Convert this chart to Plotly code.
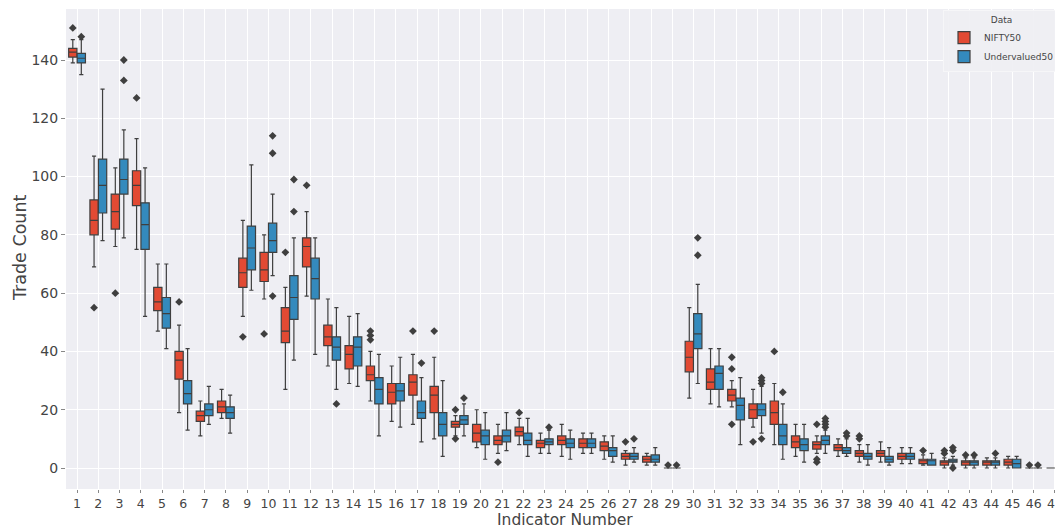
import plotly.graph_objects as go

indicators = list(range(1, 48))

# NIFTY50 box statistics (lower whisker, q1, median, q3, upper whisker)
nifty_lo = [139, 69, 76, 75, 47, 19, 11, 17, 52, 58, 27, 59, 35, 29, 23, 16, 15, 10, 11, 7, 5, 8, 5, 4, 5, 3, 1, 1, 0,
            24, 22, 21, 14, 8, 4, 5, 4, 2, 2, 1.5, 1, 0, 0, 0, 0, 0, 0]
nifty_q1 = [141, 80, 82, 90, 54, 30.5, 16, 19, 62, 64, 43, 69, 42, 34, 30, 22, 25, 19, 14, 9, 8, 11, 7, 8, 7, 6, 3, 2, 0,
            33, 27, 23, 17, 15, 7, 6.5, 6, 4, 4, 3, 1.5, 1, 1, 1, 1, 0, 0]
nifty_med = [142.7, 85, 88, 97, 57, 37, 18, 21, 67, 68, 47, 76, 45, 39, 32, 26, 29.5, 25, 15, 12, 9.5, 12.5, 8.5, 9.5, 8.5, 7.5, 4, 3, 0,
             38, 29.5, 25, 20, 19, 9, 8, 7, 5, 5, 4, 2.5, 2, 2, 2, 2, 0, 0]
nifty_q3 = [144, 92, 94, 102, 62, 40, 19.5, 23, 72, 74, 55, 79, 49, 42, 35, 29, 32, 28, 16, 15, 11, 14, 9.5, 11, 10, 9, 5, 4, 0,
            43.5, 34, 27, 22, 23, 11, 9, 8, 6, 6, 5, 3, 2.5, 2.5, 2.5, 3, 0, 0]
nifty_hi = [147, 107, 103, 113, 70, 49, 23, 27, 85, 80, 62, 88, 58, 52, 40, 35, 39, 38, 18, 20, 15, 17, 12, 15, 12, 11, 6, 5, 0,
            55, 41, 30, 27, 29, 15, 11, 10, 8, 9, 7, 4.5, 3.5, 3.5, 3.5, 4, 0, 0]

# Undervalued50 box statistics
under_lo = [135, 78, 79, 52, 41, 13, 15, 12, 61, 66, 37, 39, 27, 28, 11, 14, 9, 4, 11, 3, 6, 4, 5, 3, 5, 2, 2, 1, 0,
            29, 21, 8, 12, 3, 2, 5, 4, 1, 1, 1.5, 1, 1, 0, 0, 0, 0, 0]
under_q1 = [139, 87.5, 94, 75, 48, 22, 18, 17, 68, 74, 51, 58, 37, 35, 22, 23, 17, 11, 15, 8, 9, 8, 8, 7, 7, 4, 3, 2, 0,
            41, 27, 16.5, 18, 8, 6, 8, 5, 3, 2, 3, 1, 2, 1, 1, 0, 0, 0]
under_med = [140.6, 97, 99, 83.5, 53, 25.5, 20, 19, 75.5, 78, 58.5, 65, 41.5, 41.5, 27, 26.5, 19, 15, 16.5, 11, 11, 9.5, 9, 8.5, 8.5, 6, 4, 3, 0,
             46, 32.5, 21.5, 20, 11, 8, 9.5, 6, 4, 3, 4, 2.5, 2.5, 2, 2, 1.5, 0, 0]
under_q3 = [142.3, 106, 106, 91, 58.5, 30, 22, 21, 83, 84, 66, 72, 45, 45, 31, 29, 23, 19, 18, 13, 13, 12, 10, 10, 10, 7, 5, 4.5, 0,
            53, 35, 24, 22, 15, 10, 11, 7, 5, 4, 5, 3, 3, 2.5, 2.5, 3, 0, 0]
under_hi = [147, 130, 116, 103, 70, 41, 28, 25, 104, 94, 79, 79, 55, 53, 39, 38, 31, 30, 22, 19, 19, 17, 13, 13, 12, 11, 7, 7, 0,
            63, 41, 31, 28, 22, 15, 13, 10, 8, 7, 7, 5, 4, 3.5, 3.5, 4, 0, 0]

# Outliers
nifty_out_x = [1, 2, 3, 4, 6, 9, 10, 11, 12, 15, 15, 15, 17, 18, 19, 19, 21, 22, 27, 29,
               32, 32, 32, 33, 34, 36, 36, 36, 38, 38, 41, 42, 42, 43, 46]
nifty_out_y = [151, 55, 60, 127, 57, 45, 46, 74, 97, 47, 45.5, 44, 47, 47, 20, 10, 2, 19, 9, 1,
               38, 34, 15, 9, 40, 15, 3, 2, 11, 10, 6, 6, 5, 4.5, 1]
under_out_x = [1, 3, 3, 10, 10, 10, 11, 11, 13, 17, 19, 23, 27, 29, 30, 30, 33, 33, 33, 33,
               34, 36, 36, 36, 36, 37, 37, 42, 42, 42, 43, 44, 46, 47]
under_out_y = [148, 140, 133, 114, 108, 59, 99, 88, 22, 36, 24, 14, 10, 1, 79, 73, 31, 30, 29, 10,
               26, 17, 16, 15, 14, 11, 12, 7, 6, 0, 4.5, 5, 1, 1]

series_names = ["NIFTY50", "Undervalued50"]
colors = ["#E24A33", "#348ABD"]
offset = 0.2
edge = "#3f3f3f"

fig = go.Figure()
stats = [(nifty_lo, nifty_q1, nifty_med, nifty_q3, nifty_hi),
         (under_lo, under_q1, under_med, under_q3, under_hi)]
outs = [(nifty_out_x, nifty_out_y), (under_out_x, under_out_y)]
for k, (name, col) in enumerate(zip(series_names, colors)):
    lo, q1, med, q3, hi = stats[k]
    sign = -1 if k == 0 else 1
    fig.add_trace(go.Box(
        name=name,
        x=[i + sign * offset for i in indicators],
        lowerfence=lo, q1=q1, median=med, q3=q3, upperfence=hi,
        width=0.39, whiskerwidth=0.5,
        fillcolor=col, line=dict(color=edge, width=1.2),
        boxpoints=False, legendgroup=name, hoverinfo="skip",
    ))
    ox, oy = outs[k]
    fig.add_trace(go.Scatter(
        x=[v + sign * offset for v in ox], y=oy, mode="markers",
        marker=dict(symbol="diamond", size=6, color=edge),
        showlegend=False, legendgroup=name, hoverinfo="skip",
    ))

font_family = "DejaVu Sans"
fig.update_layout(
    width=1055, height=520,
    template="none",
    paper_bgcolor="white",
    plot_bgcolor="#EEEEF3",
    boxmode="overlay",
    margin=dict(l=58, r=0, t=1, b=39),
    font=dict(family=font_family, color="#444444"),
    legend=dict(
        title=dict(text="Data", side="top center", font=dict(size=9)),
        x=0.997, y=0.997, xanchor="right", yanchor="top",
        bgcolor="rgba(238,238,243,0.9)", bordercolor="#F6F6F8", borderwidth=1,
        font=dict(size=9), tracegroupgap=0,
    ),
    xaxis=dict(
        range=[0.48, 47.38],
        tickmode="array", tickvals=indicators, ticktext=[str(i) for i in indicators],
        showgrid=True, gridcolor="white", gridwidth=1,
        zeroline=False, showline=False,
        ticks="outside", ticklen=3, tickcolor="#888888",
        tickfont=dict(size=12.5, color="#444444"),
        ticklabeloverflow="allow",
    ),
    yaxis=dict(
        range=[-7.2, 157.5],
        tickmode="array", tickvals=[0, 20, 40, 60, 80, 100, 120, 140],
        showgrid=True, gridcolor="white", gridwidth=1,
        zeroline=False, showline=False,
        ticks="outside", ticklen=4, tickcolor="#888888",
        tickfont=dict(size=14, color="#444444"),
    ),
    annotations=[
        dict(text="Indicator Number", xref="paper", yref="paper", x=0.5, y=0,
             yshift=-41.5, xanchor="center", yanchor="bottom", showarrow=False,
             font=dict(size=15.5, color="#444444", family=font_family)),
        dict(text="Trade Count", xref="paper", yref="paper", x=0, y=0.502,
             xshift=-34, xanchor="right", yanchor="middle", textangle=-90, showarrow=False,
             font=dict(size=17.5, color="#444444", family=font_family)),
    ],
)

fig.write_html("out.html")
